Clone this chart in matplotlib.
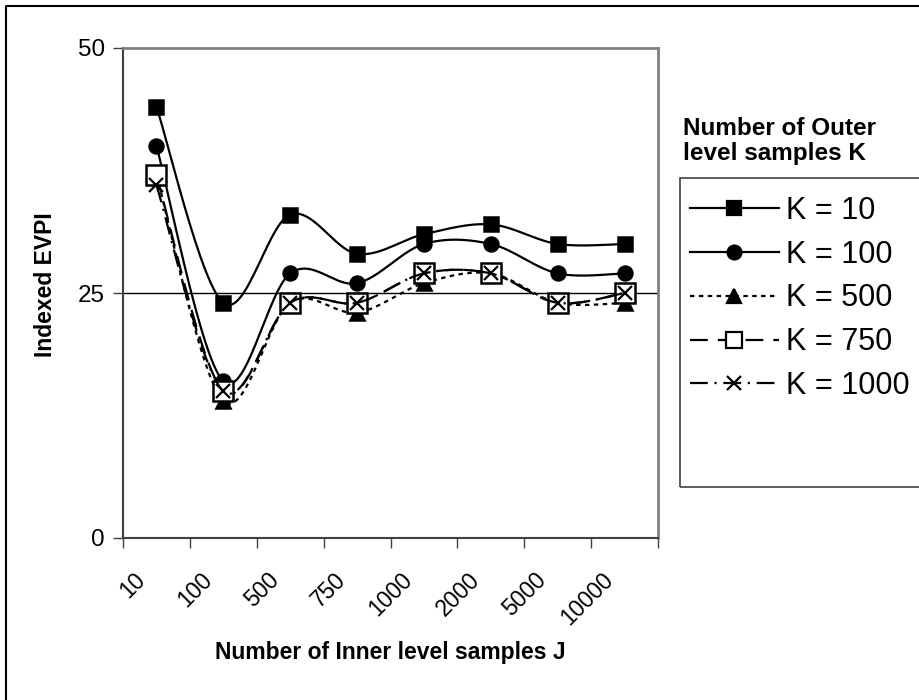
import numpy as np
import matplotlib.pyplot as plt
import matplotlib.transforms as mtransforms
from matplotlib.lines import Line2D
from matplotlib.patches import Rectangle

plt.rcParams['font.family'] = ['Liberation Sans', 'DejaVu Sans']

inner_samples = ['10', '100', '500', '750', '1000', '2000', '5000', '10000']
k10 = [44, 24, 33, 29, 31, 32, 30, 30]
k100 = [40, 16, 27, 26, 30, 30, 27, 27]
k500 = [37, 14, 24, 23, 26, 27, 24, 24]
k750 = [37, 15, 24, 24, 27, 27, 24, 25]
k1000 = [36, 15, 24, 24, 27, 27, 24, 25]
series_labels = ['K = 10', 'K = 100', 'K = 500', 'K = 750', 'K = 1000']


def smooth(y, n=30):
    # excel style smoothed line (bezier through the points)
    y = np.asarray(y, float)
    p = np.column_stack([np.arange(len(y), dtype=float), y])
    pp = np.vstack([p[0], p, p[-1]])
    t = np.linspace(0, 1, n)[:, None]
    out = []
    for i in range(len(p) - 1):
        p0, p3 = pp[i + 1], pp[i + 2]
        c1 = p0 + (pp[i + 2] - pp[i]) / 6
        c2 = p3 - (pp[i + 3] - pp[i + 1]) / 6
        seg = (1 - t) ** 3 * p0 + 3 * (1 - t) ** 2 * t * c1 + 3 * (1 - t) * t ** 2 * c2 + t ** 3 * p3
        out.append(seg if i == 0 else seg[1:])
    s = np.vstack(out)
    return s[:, 0], s[:, 1]


styles = [
    dict(ls='-', marker='s', ms=10, mfc='black'),
    dict(ls='-', marker='o', ms=10, mfc='black'),
    dict(ls=(0, (2, 2)), marker='^', ms=10, mfc='black'),
    dict(ls=(0, (8, 4.5)), marker='s', ms=15, mfc='white'),
    dict(ls=(0, (8, 3, 1, 3)), marker='x', ms=10, mfc='black'),
]

fig = plt.figure(figsize=(9.19, 7.0), dpi=100)
ax = fig.add_axes([123 / 919, 1 - 538 / 700, 535 / 919, 490 / 700])

x = np.arange(len(inner_samples))
handles = []
for vals, st, lab in zip([k10, k100, k500, k750, k1000], styles, series_labels):
    sx, sy = smooth(vals)
    ax.plot(sx, sy, color='black', lw=1.6, ls=st['ls'])
    ax.plot(x, vals, ls='none', marker=st['marker'], ms=st['ms'], mfc=st['mfc'],
            mec='black', mew=1.8 if st['marker'] != 'x' else 1.6)
    leg_ms = st['ms'] if st['mfc'] == 'black' else 12
    handles.append(Line2D([], [], color='black', lw=1.6, ls=st['ls'], marker=st['marker'],
                          ms=leg_ms, mfc=st['mfc'], mec='black', mew=1.6))

ax.set_xlim(-0.5, len(inner_samples) - 0.5)
ax.set_ylim(0, 50)
ax.set_yticks([0, 25, 50])
ax.set_yticklabels(['0', '25', '50'], fontsize=17.5)
ax.axhline(25, color='black', lw=1, zorder=0)
ax.set_xticks(np.arange(-0.5, len(inner_samples), 1.0))
ax.set_xticklabels([])
ax.tick_params(axis='both', direction='out', length=7, width=1, color='#404040')
ax.tick_params(axis='y', pad=6)
for s in ['top', 'right']:
    ax.spines[s].set_color('#808080')
    ax.spines[s].set_linewidth(2)
for s in ['left', 'bottom']:
    ax.spines[s].set_color('#404040')
    ax.spines[s].set_linewidth(1.5)

# rotated category labels
off = mtransforms.ScaledTranslation(-15 / 100, -38 / 100, fig.dpi_scale_trans)
trans = mtransforms.blended_transform_factory(ax.transData, ax.transAxes) + off
for xi, lab in zip(x, inner_samples):
    ax.text(xi, 0, lab, transform=trans, rotation=45, rotation_mode='anchor',
            ha='right', va='center', fontsize=16.5)

fig.text(46 / 919, 1 - 285 / 700, 'Indexed EVPI', rotation=90, ha='center', va='center',
         fontsize=16.5, fontweight='bold')
fig.text(390 / 919, 1 - 652 / 700, 'Number of Inner level samples J', ha='center', va='center',
         fontsize=16.5, fontweight='bold')

# legend
fig.text(683 / 919, 1 - 117 / 700, 'Number of Outer\nlevel samples K', ha='left', va='top',
         fontsize=17.5, fontweight='bold', linespacing=1.1)
fig.patches.append(Rectangle((680 / 919, 1 - 487 / 700), 0.3, 309 / 700, transform=fig.transFigure,
                             fill=False, edgecolor='#404040', lw=1.2))
fig.legend(handles, series_labels, loc='upper left', bbox_to_anchor=(690 / 919, 1 - 196 / 700),
           frameon=False, fontsize=22, handlelength=2.9, handletextpad=0.25, labelspacing=0.45,
           borderaxespad=0, borderpad=0, numpoints=1)

# outer chart border
fig.lines.append(Line2D([6 / 919, 6 / 919, 1.0], [0.0, 1 - 6 / 700, 1 - 6 / 700],
                        transform=fig.transFigure, color='black', lw=1.5))

fig.savefig('out.png', dpi=100)
